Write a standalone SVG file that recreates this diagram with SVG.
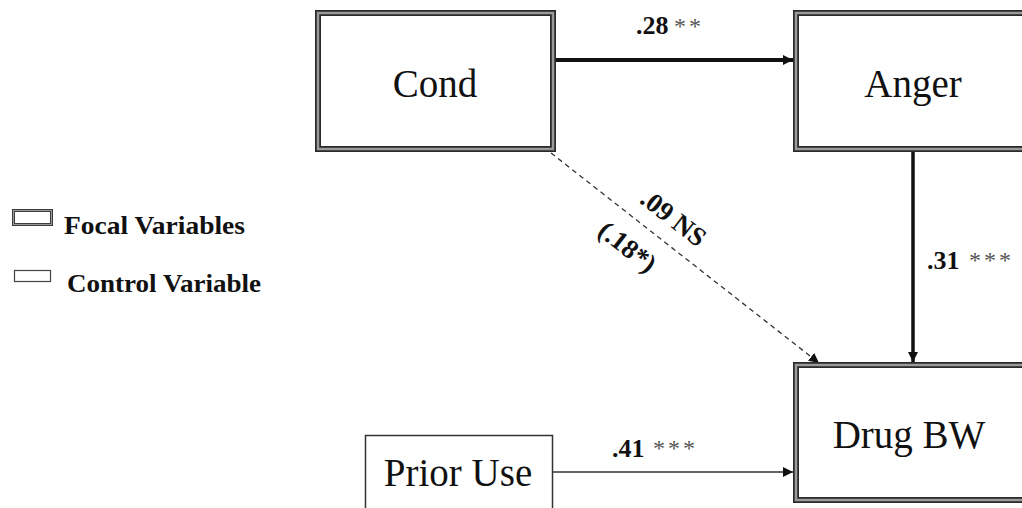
<svg xmlns="http://www.w3.org/2000/svg" width="1022" height="508" viewBox="0 0 1022 508">
<style>
.focal-outer{fill:#fff;stroke:#2a2a2a;stroke-width:6}
.focal-inner{fill:none;stroke:#9a9a9a;stroke-width:2.5}
.ctrl{fill:#fff;stroke:#333;stroke-width:1.5}
.node{font-family:"Liberation Serif",serif;font-size:39px;fill:#111;text-anchor:middle}
.lab{font-family:"Liberation Serif",serif;font-size:26px;font-weight:bold;fill:#111}
.rot{font-family:"Liberation Serif",serif;font-size:27px;font-weight:bold;fill:#111;text-anchor:middle}
.star{font-family:"Liberation Serif",serif;font-size:24px;fill:#555;letter-spacing:3px}
.leg{font-family:"Liberation Serif",serif;font-size:25px;font-weight:bold;fill:#111}
</style>
<defs>
<marker id="ah" viewBox="0 0 10 10" refX="10" refY="5" markerWidth="10" markerHeight="10" markerUnits="userSpaceOnUse" orient="auto">
<path d="M0,0 L10,5 L0,10 z" fill="#111"/>
</marker>
</defs>
<rect width="1022" height="508" fill="#fff"/>

<g id="connectors" fill="none" stroke="#111">
<line x1="556" y1="60" x2="793" y2="60" stroke-width="4" marker-end="url(#ah)"/>
<line x1="913" y1="152" x2="913" y2="362" stroke-width="3.5" marker-end="url(#ah)"/>
<line x1="552" y1="472" x2="793" y2="472" stroke-width="1.5" stroke="#333" marker-end="url(#ah)"/>
<line x1="551" y1="153" x2="819" y2="363" stroke-width="1.3" stroke="#333" stroke-dasharray="5,4" marker-end="url(#ah)"/>
</g>

<g id="node-cond">
<rect class="focal-outer" x="318" y="13" width="235" height="136"/>
<rect class="focal-inner" x="318" y="13" width="235" height="136"/>
<text class="node" x="435" y="97">Cond</text>
</g>

<g id="node-anger">
<rect class="focal-outer" x="796" y="13" width="300" height="136"/>
<rect class="focal-inner" x="796" y="13" width="300" height="136"/>
<text class="node" x="913" y="97">Anger</text>
</g>

<g id="node-drugbw">
<rect class="focal-outer" x="796" y="365" width="300" height="135"/>
<rect class="focal-inner" x="796" y="365" width="300" height="135"/>
<text class="node" x="909" y="448">Drug BW</text>
</g>

<g id="node-prioruse">
<rect class="ctrl" x="365.5" y="435.5" width="187" height="100"/>
<text class="node" x="458" y="486">Prior Use</text>
</g>

<g id="labels">
<text class="lab" x="636" y="34">.28</text>
<text class="star" x="674" y="34">**</text>
<text class="lab" x="927" y="269">.31</text>
<text class="star" x="969" y="268">***</text>
<text class="lab" x="612" y="457">.41</text>
<text class="star" x="653" y="456">***</text>
<text class="rot" transform="translate(668,225) rotate(38)">.09 NS</text>
<text class="rot" transform="translate(622,254) rotate(38)">(.18*)</text>
</g>

<g id="legend">
<rect x="13.5" y="210.5" width="38" height="14" fill="#fff" stroke="#333" stroke-width="3"/>
<rect x="13.5" y="210.5" width="38" height="14" fill="none" stroke="#999" stroke-width="1.2"/>
<text class="leg" x="64" y="234" textLength="181" lengthAdjust="spacingAndGlyphs">Focal Variables</text>
<rect x="14.5" y="270.5" width="36" height="11" fill="#fff" stroke="#444" stroke-width="1.2"/>
<text class="leg" x="67" y="292" textLength="194" lengthAdjust="spacingAndGlyphs">Control Variable</text>
</g>
</svg>
